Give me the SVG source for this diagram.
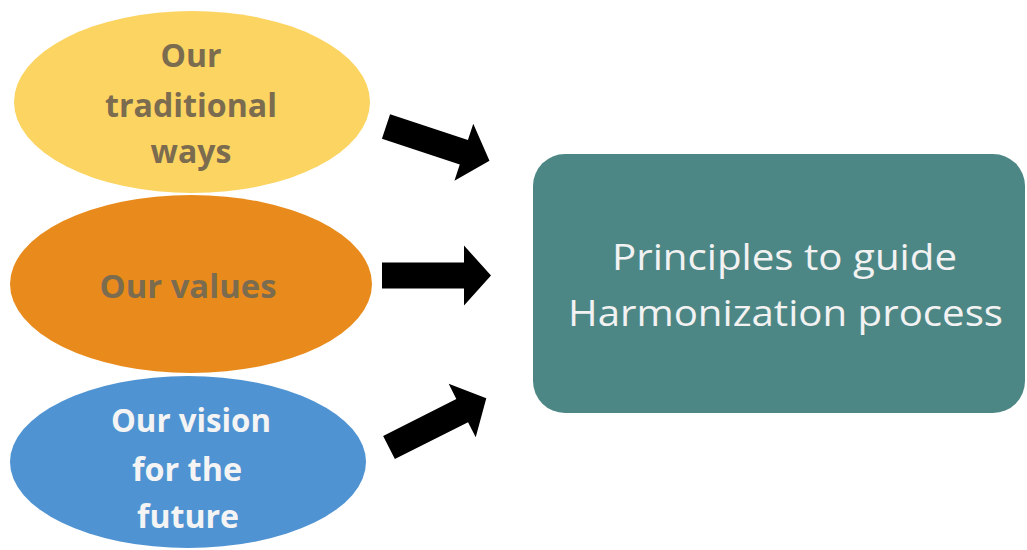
<svg xmlns="http://www.w3.org/2000/svg" xmlns:xlink="http://www.w3.org/1999/xlink" width="1027" height="550" viewBox="0 0 1027 550">
  <style>
    .lbl { font-family: "Open Sans", "Noto Sans", "Liberation Sans", sans-serif; font-weight: bold; font-size: 32px; text-anchor: middle; }
    .dark { fill: #7b6c4f; }
    .light { fill: #f4f4f4; }
    .box-text { font-family: "Open Sans", "Noto Sans", "Liberation Sans", sans-serif; font-size: 37px; fill: #f2f2f2; text-anchor: middle; }
    .arrow { fill: #000000; }
  </style>
  <defs>
    <path id="arrowShape" class="arrow" d="M0,-13 L82,-13 L82,-30 L109,0 L82,30 L82,13 L0,13 Z"/>
  </defs>
  <rect width="1027" height="550" fill="#ffffff"/>

  <g id="node-traditional">
    <ellipse cx="192" cy="102" rx="178" ry="91" fill="#fbd462"/>
    <text class="lbl dark" x="191" y="67">Our</text>
    <text class="lbl dark" x="191" y="117" textLength="172" lengthAdjust="spacingAndGlyphs">traditional</text>
    <text class="lbl dark" x="191" y="163">ways</text>
  </g>

  <g id="node-values">
    <ellipse cx="191" cy="284" rx="181" ry="89" fill="#e98b1c"/>
    <text class="lbl dark" x="188" y="298" textLength="177" lengthAdjust="spacingAndGlyphs">Our values</text>
  </g>

  <g id="node-vision">
    <ellipse cx="188" cy="462" rx="178" ry="86" fill="#4f93d2"/>
    <text class="lbl light" x="191" y="432" textLength="160" lengthAdjust="spacingAndGlyphs">Our vision</text>
    <text class="lbl light" x="187" y="481" textLength="110" lengthAdjust="spacingAndGlyphs">for the</text>
    <text class="lbl light" x="188" y="528" textLength="102" lengthAdjust="spacingAndGlyphs">future</text>
  </g>

  <g id="node-principles">
    <rect x="533" y="154" width="492" height="259" rx="32" ry="32" fill="#4d8785"/>
    <text class="box-text" x="784.5" y="270" textLength="345" lengthAdjust="spacingAndGlyphs">Principles  to guide</text>
    <text class="box-text" x="785.5" y="326" textLength="435" lengthAdjust="spacingAndGlyphs">Harmonization process</text>
  </g>

  <g id="connectors">
    <use xlink:href="#arrowShape" transform="translate(386,126.5) rotate(18.3)"/>
    <use xlink:href="#arrowShape" transform="translate(382,275.5)"/>
    <use xlink:href="#arrowShape" transform="translate(389,447.5) rotate(-26.8)"/>
  </g>
</svg>
